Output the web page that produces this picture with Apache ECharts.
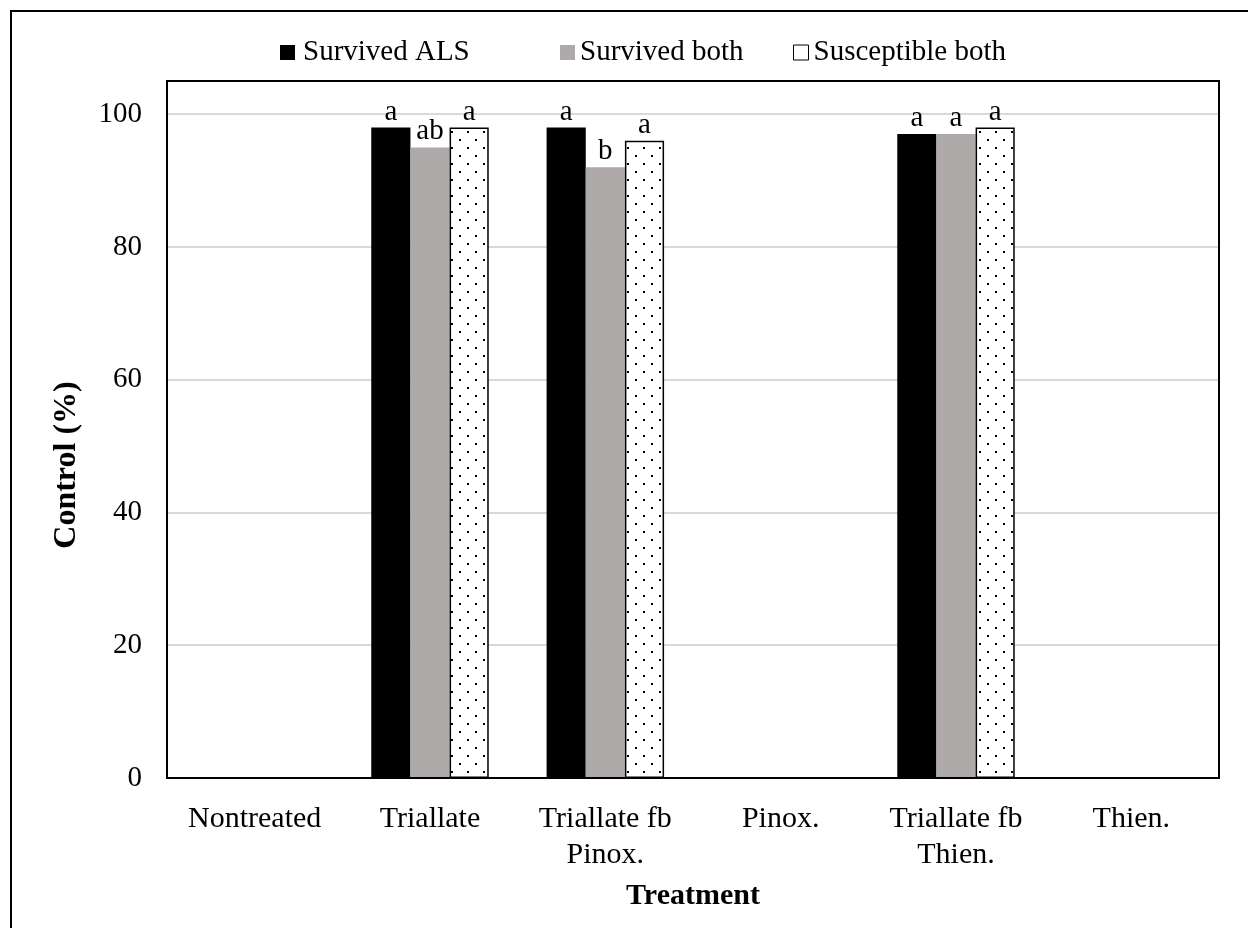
<!DOCTYPE html>
<html>
<head>
<meta charset="utf-8">
<style>html,body{margin:0;padding:0;background:#fff;}#c{width:1248px;height:928px;}</style>
<script src="https://cdn.jsdelivr.net/npm/echarts@6/dist/echarts.min.js"></script>
</head>
<body>
<div id="c"></div>
<script>
var categories = ['Nontreated', 'Triallate', 'Triallate fb\nPinox.', 'Pinox.', 'Triallate fb\nThien.', 'Thien.'];
var seriesNames = ['Survived ALS', 'Survived both', 'Susceptible both'];
var survivedALS = [0, 98, 98, 0, 97, 0];
var survivedBoth = [0, 95, 92, 0, 97, 0];
var susceptibleBoth = [0, 98, 96, 0, 98, 0];
var lettersALS = ['', 'a', 'a', '', 'a', ''];
var lettersBoth = ['', 'ab', 'b', '', 'a', ''];
var lettersSusc = ['', 'a', 'a', '', 'a', ''];
var yTicks = [0, 20, 40, 60, 80, 100];

var FONT = '"Liberation Serif", "Times New Roman", serif';
var GL = 167, GT = 81, GR = 1219, GB = 778;

function makeDots() {
  var cv = document.createElement('canvas');
  cv.width = 16; cv.height = 16;
  var g = cv.getContext('2d');
  g.fillStyle = '#fff'; g.fillRect(0, 0, 16, 16);
  g.fillStyle = '#000';
  g.fillRect(3, 3, 2, 2);
  g.fillRect(11, 11, 2, 2);
  return cv;
}
var dotPattern = { image: makeDots(), repeat: 'repeat' };

function labelCfg(letters) {
  return {
    show: true, position: 'top', distance: 1,
    color: '#000', fontFamily: FONT, fontSize: 29,
    formatter: function (p) { return letters[p.dataIndex]; }
  };
}

var legendIcons = [
  { color: '#000' },
  { color: '#AEAAAA' },
  { color: '#fff', borderColor: '#000', borderWidth: 1 }
];
var legendLefts = [275, 555, 788];
var legendPads = [3, 0, 0];
var legends = seriesNames.map(function (n, i) {
  return {
    top: 33, left: legendLefts[i],
    itemWidth: 15, itemHeight: 15,
    textStyle: { fontFamily: FONT, fontSize: 29, color: '#000', padding: [0, 0, 0, legendPads[i]] },
    data: [{ name: n, icon: 'rect', itemStyle: legendIcons[i] }]
  };
});

var chart = echarts.init(document.getElementById('c'), null, { renderer: 'canvas' });
chart.setOption({
  backgroundColor: '#fff',
  animation: false,
  textStyle: { fontFamily: FONT },
  graphic: [
    { type: 'polyline', z: 100, shape: { points: [[11, 928], [11, 11], [1248, 11]] }, style: { stroke: '#000', lineWidth: 2, fill: null } },
    { type: 'rect', z: 100, shape: { x: GL, y: GT, width: GR - GL, height: GB - GT }, style: { stroke: '#000', lineWidth: 2, fill: null } },
    { type: 'text', z: 100, x: 67, y: 465, rotation: Math.PI / 2,
      style: { text: 'Control (%)', font: 'bold 32px "Liberation Serif", "Times New Roman", serif', fill: '#000', align: 'center', verticalAlign: 'middle' } }
  ],
  legend: legends,
  grid: { left: GL, right: 1248 - GR, top: GT, bottom: 928 - GB, containLabel: false },
  xAxis: {
    type: 'category', data: categories,
    axisTick: { show: false },
    axisLine: { lineStyle: { color: '#000', width: 2 } },
    axisLabel: { color: '#000', fontFamily: FONT, fontSize: 30, margin: 23, lineHeight: 36, interval: 0 },
    name: 'Treatment', nameLocation: 'middle', nameGap: 103,
    nameTextStyle: { color: '#000', fontFamily: FONT, fontSize: 30, fontWeight: 'bold' }
  },
  yAxis: {
    type: 'value', min: 0, max: 105, interval: 20,
    axisLine: { show: false }, axisTick: { show: false },
    splitLine: { lineStyle: { color: '#D9D9D9', width: 2 } },
    axisLabel: {
      color: '#000', fontFamily: FONT, fontSize: 29, margin: 25,
      formatter: function (v) { return yTicks.indexOf(v) >= 0 ? String(v) : ''; }
    }
  },
  series: [
    { name: seriesNames[0], type: 'bar', data: survivedALS, barGap: '0%', barCategoryGap: '33%',
      itemStyle: { color: '#000' }, label: labelCfg(lettersALS) },
    { name: seriesNames[1], type: 'bar', data: survivedBoth, barGap: '0%', barCategoryGap: '33%',
      itemStyle: { color: '#AEAAAA' }, label: labelCfg(lettersBoth) },
    { name: seriesNames[2], type: 'bar', data: susceptibleBoth, barGap: '0%', barCategoryGap: '33%',
      itemStyle: { color: dotPattern, borderColor: '#000', borderWidth: 1.5 }, label: labelCfg(lettersSusc) }
  ]
});
</script>
</body>
</html>
